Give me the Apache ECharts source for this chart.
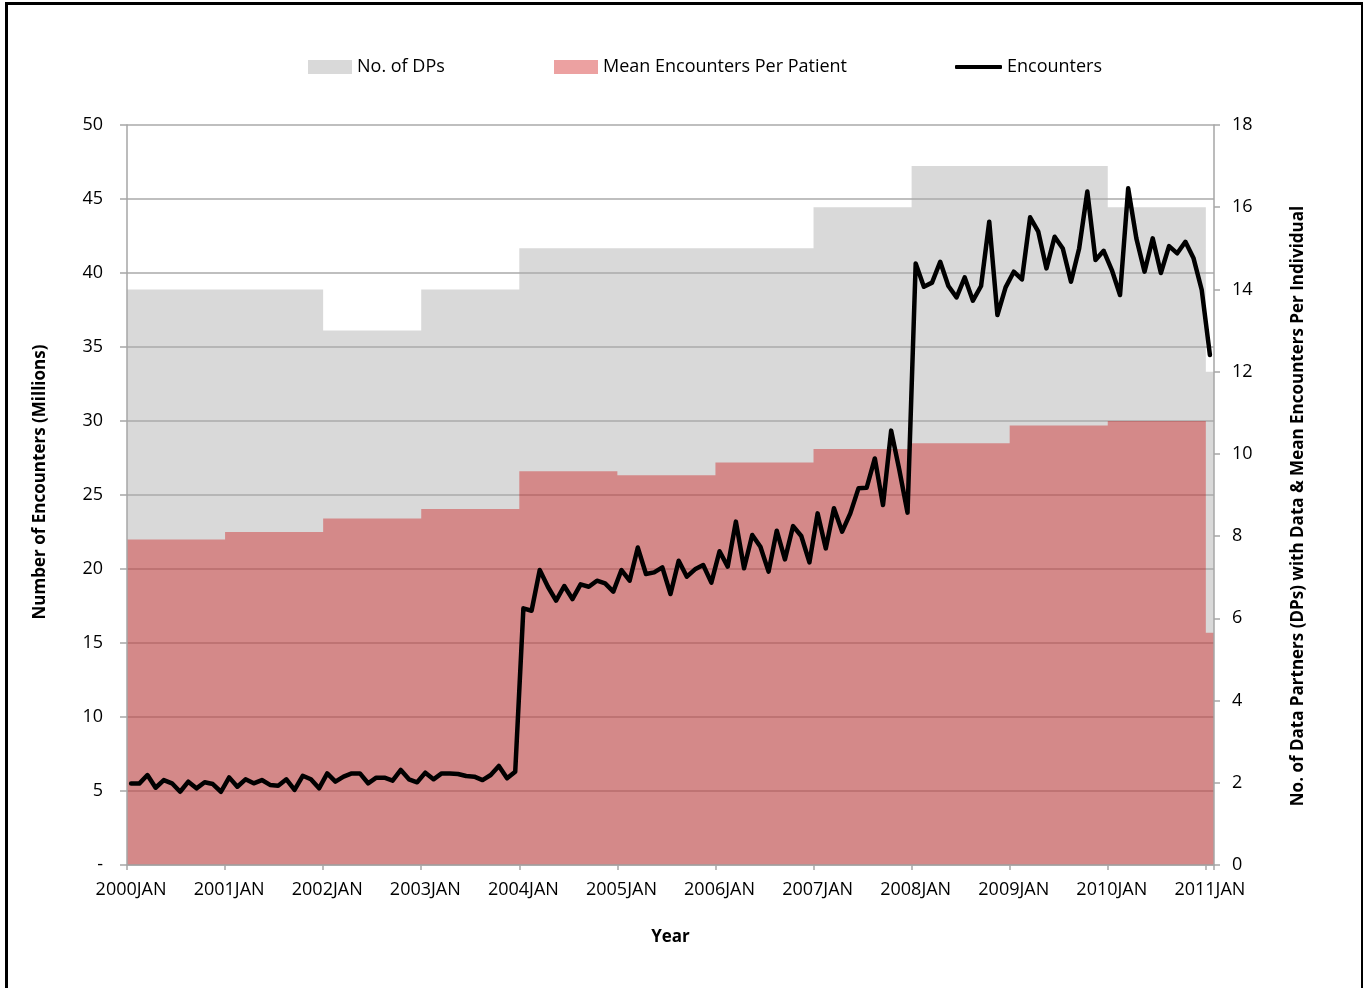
<!DOCTYPE html>
<html>
<head>
<meta charset="utf-8">
<script src="https://cdn.jsdelivr.net/npm/echarts@6/dist/echarts.min.js"></script>
<style>
html,body{margin:0;padding:0;background:#fff;}
#chart{width:1363px;height:988px;}
</style>
</head>
<body>
<div id="chart"></div>
<script>
// ---- Data ----
const years = [2000,2001,2002,2003,2004,2005,2006,2007,2008,2009,2010,2011];
const monthNames = ['JAN','FEB','MAR','APR','MAY','JUN','JUL','AUG','SEP','OCT','NOV','DEC'];

// No. of DPs per year (2011 = JAN only)
const dpsByYear = [14,14,13,14,15,15,15,16,17,17,16,12];
// Mean encounters per patient per year (2011 = JAN only)
const meanByYear = [7.92,8.10,8.43,8.66,9.58,9.48,9.79,10.12,10.26,10.69,10.80,5.65];

// Monthly encounters (millions), 2000JAN .. 2011JAN
const enc2000 = [5.50,5.50,6.08,5.22,5.74,5.52,4.95,5.63,5.18,5.59,5.47,4.95];
const enc2001 = [5.92,5.29,5.79,5.52,5.74,5.41,5.36,5.79,5.07,6.03,5.79,5.18];
const enc2002 = [6.19,5.63,5.97,6.19,6.19,5.52,5.90,5.90,5.70,6.42,5.79,5.59];
const enc2003 = [6.24,5.79,6.19,6.19,6.15,6.01,5.97,5.74,6.08,6.69,5.86,6.30];
const enc2004 = [17.34,17.18,19.93,18.80,17.86,18.85,17.97,18.96,18.80,19.21,19.03,18.47];
const enc2005 = [19.93,19.21,21.45,19.66,19.77,20.11,18.31,20.56,19.48,19.98,20.27,19.08];
const enc2006 = [21.20,20.16,23.20,20.05,22.30,21.50,19.82,22.59,20.65,22.90,22.23,20.45];
const enc2007 = [23.76,21.39,24.10,22.52,23.76,25.45,25.49,27.47,24.32,29.35,26.69,23.81];
const enc2008 = [40.65,39.07,39.35,40.76,39.12,38.35,39.70,38.13,39.12,43.47,37.16,39.03];
const enc2009 = [40.09,39.57,43.76,42.79,40.31,42.45,41.66,39.41,41.66,45.50,40.88,41.50];
const enc2010 = [40.20,38.51,45.72,42.34,40.09,42.34,40.00,41.82,41.33,42.11,40.99,38.85];
const enc2011 = [34.46];

const leftTicks = {min:0, max:50, interval:5};
const rightTicks = {min:0, max:18, interval:2};

// ---- Build tables ----
const months = [];
const dps = [];
const meanEnc = [];
years.forEach((y, yi) => {
  const n = (y === 2011) ? 1 : 12;
  for (let m = 0; m < n; m++) {
    months.push(y + monthNames[m]);
    dps.push(dpsByYear[yi]);
    meanEnc.push(meanByYear[yi]);
  }
});
const encounters = [].concat(enc2000,enc2001,enc2002,enc2003,enc2004,enc2005,enc2006,enc2007,enc2008,enc2009,enc2010,enc2011);

// step-area points on a band-index value axis: value i covers [i, i+1]
function stepPts(arr){
  const pts = arr.map((v,i)=>[i,v]);
  pts.push([arr.length, arr[arr.length-1]]);
  return pts;
}

const FONT = 'Open Sans';
const AX = '#a6a6a6';
const GRAY = '#d9d9d9';
const RED = 'rgba(204,0,0,0.37)';

const chart = echarts.init(document.getElementById('chart'), null, {renderer:'canvas'});
chart.setOption({
  animation: false,
  backgroundColor: '#fff',
  textStyle: {fontFamily: FONT, color:'#000'},
  graphic: [{
    type:'rect', left:4, top:1, z:100, silent:true,
    shape:{width:1356, height:992},
    style:{fill:'none', stroke:'#000', lineWidth:3}
  }],
  grid: {left:127, right:149, top:125, bottom:123, containLabel:false},
  legend: [
    {left:303, top:53, itemWidth:44, itemHeight:14, itemGap:5,
     textStyle:{fontFamily:FONT, fontSize:18, color:'#000'},
     data:[{name:'No. of DPs', icon:'rect', itemStyle:{color:GRAY, opacity:1}}]},
    {left:549, top:53, itemWidth:44, itemHeight:14,
     textStyle:{fontFamily:FONT, fontSize:18, color:'#000'},
     data:[{name:'Mean Encounters Per Patient', icon:'rect', itemStyle:{color:RED}}]},
    {left:950, top:53, itemWidth:47, itemHeight:4,
     textStyle:{fontFamily:FONT, fontSize:18, color:'#000'},
     data:[{name:'Encounters', icon:'roundRect', itemStyle:{color:'#000'}}]}
  ],
  xAxis: [
    {
      type:'category', data: months, boundaryGap:true, z:5,
      axisLine:{show:true, lineStyle:{color:AX, width:1.5}},
      axisTick:{show:true, interval:11, length:5, lineStyle:{color:AX, width:1.5}},
      axisLabel:{interval:11, margin:16, fontFamily:FONT, fontSize:18, color:'#000'},
      name:'Year', nameLocation:'middle', nameGap:64,
      nameTextStyle:{fontFamily:FONT, fontSize:17, fontWeight:'bold', color:'#000'}
    },
    {type:'value', min:0, max:months.length, show:false}
  ],
  yAxis: [
    {
      type:'value', position:'left', z:2,
      min:leftTicks.min, max:leftTicks.max, interval:leftTicks.interval,
      axisLine:{show:false}, axisTick:{show:false},
      splitLine:{show:true, lineStyle:{color:'#aaaaaa', width:1.5}},
      axisLabel:{margin:24, fontFamily:FONT, fontSize:18, color:'#000',
                 formatter: v => v === 0 ? '-' : String(v)},
      name:'Number of Encounters (Millions)', nameLocation:'middle', nameGap:78, nameRotate:90,
      nameTextStyle:{fontFamily:FONT, fontSize:17, fontWeight:'bold', color:'#000', padding:[0,0,0,26]}
    },
    {
      type:'value', position:'right', z:5,
      min:rightTicks.min, max:rightTicks.max, interval:rightTicks.interval,
      axisLine:{show:true, lineStyle:{color:AX, width:1.5}},
      axisTick:{show:true, length:6, lineStyle:{color:AX, width:1.5}},
      splitLine:{show:false},
      axisLabel:{margin:18, fontFamily:FONT, fontSize:18, color:'#000'},
      name:'No. of Data Partners (DPs) with Data & Mean Encounters Per Individual',
      nameLocation:'middle', nameGap:76, nameRotate:90,
      nameTextStyle:{fontFamily:FONT, fontSize:17, fontWeight:'bold', color:'#000', padding:[0,22,0,0]}
    },
    {
      type:'value', position:'left', z:5,
      min:leftTicks.min, max:leftTicks.max, interval:leftTicks.interval,
      axisLine:{show:true, lineStyle:{color:AX, width:1.5}},
      axisTick:{show:true, length:7, lineStyle:{color:AX, width:1.5}},
      axisLabel:{show:false}, splitLine:{show:false}
    }
  ],
  series: [
    {
      name:'No. of DPs', type:'line', xAxisIndex:1, yAxisIndex:1, z:1,
      step:'end', symbol:'none', data: stepPts(dps),
      itemStyle:{color:GRAY}, lineStyle:{width:0, opacity:0},
      areaStyle:{color:GRAY, opacity:1}, silent:true
    },
    {
      name:'Mean Encounters Per Patient', type:'line', xAxisIndex:1, yAxisIndex:1, z:3,
      step:'end', symbol:'none', data: stepPts(meanEnc),
      itemStyle:{color:RED}, lineStyle:{width:0, opacity:0},
      areaStyle:{color:RED, opacity:1}, silent:true
    },
    {
      name:'Encounters', type:'line', xAxisIndex:0, yAxisIndex:0, z:4,
      symbol:'none', showSymbol:false, data: encounters,
      itemStyle:{color:'#000'},
      lineStyle:{color:'#000', width:4.5, join:'round', cap:'round'}
    }
  ]
});
</script>
</body>
</html>
